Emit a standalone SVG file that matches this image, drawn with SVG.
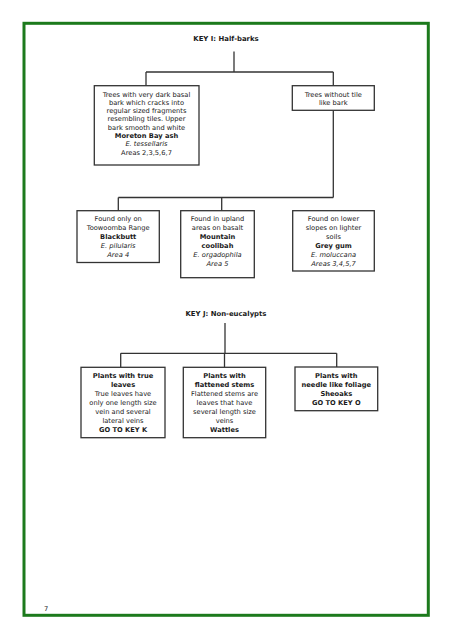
<svg xmlns="http://www.w3.org/2000/svg" width="452" height="640" viewBox="0 0 452 640">
<style>
text{font-family:"DejaVu Sans","Verdana",sans-serif;font-size:6.7px;fill:#1a1a1a;text-anchor:middle}
.b{font-weight:bold}
.i{font-style:italic}
.t{font-weight:bold;font-size:6.9px}
.box{fill:#fff;stroke:#333;stroke-width:1.3}
.con line{stroke:#333;stroke-width:1.3}
</style>
<rect x="24" y="23.3" width="404.3" height="592" fill="none" stroke="#1c7a1c" stroke-width="3"/>
<text x="226" y="40.5" class="t">KEY I: Half-barks</text>
<text x="226" y="316" class="t">KEY J: Non-eucalypts</text>
<text x="44" y="611" style="text-anchor:start">7</text>
<g id="connectors" class="con">
<line x1="234" y1="51.5" x2="234" y2="72"/>
<line x1="146" y1="72" x2="333.3" y2="72"/>
<line x1="146" y1="72" x2="146" y2="85.7"/>
<line x1="333.3" y1="72" x2="333.3" y2="85.7"/>
<line x1="333.3" y1="110.3" x2="333.3" y2="197.5"/>
<line x1="118.3" y1="197.5" x2="333.3" y2="197.5"/>
<line x1="118.3" y1="197.5" x2="118.3" y2="210.7"/>
<line x1="221.7" y1="197.5" x2="221.7" y2="210.7"/>
<line x1="225" y1="323" x2="225" y2="353.3"/>
<line x1="120.7" y1="353.3" x2="336.7" y2="353.3"/>
<line x1="120.7" y1="353.3" x2="120.7" y2="367.3"/>
<line x1="224.5" y1="353.3" x2="224.5" y2="367.3"/>
<line x1="336.7" y1="353.3" x2="336.7" y2="367.3"/>
</g>
<g id="n-moreton">
<rect class="box" x="94.3" y="85.7" width="104.7" height="79.3"/>
<text x="146.5" y="96.5">Trees with very dark basal</text>
<text x="146.5" y="104.8">bark which cracks into</text>
<text x="146.5" y="113.1">regular sized fragments</text>
<text x="146.5" y="121.4">resembling tiles. Upper</text>
<text x="146.5" y="129.7">bark smooth and white</text>
<text x="146.5" y="138" class="b">Moreton Bay ash</text>
<text x="146.5" y="146.3" class="i">E. tessellaris</text>
<text x="146.5" y="154.6">Areas 2,3,5,6,7</text>
</g>
<g id="n-notile">
<rect class="box" x="292.3" y="85.7" width="82" height="24.6"/>
<text x="333.3" y="96.5">Trees without tile</text>
<text x="333.3" y="105.2">like bark</text>
</g>
<g id="n-blackbutt">
<rect class="box" x="77" y="210.7" width="82.3" height="51.8"/>
<text x="118.2" y="221.4">Found only on</text>
<text x="118.2" y="230.4">Toowoomba Range</text>
<text x="118.2" y="239.4" class="b">Blackbutt</text>
<text x="118.2" y="248.4" class="i">E. pilularis</text>
<text x="118.2" y="257.4" class="i">Area 4</text>
</g>
<g id="n-coolibah">
<rect class="box" x="180.7" y="210.7" width="73.6" height="67"/>
<text x="217.5" y="221.4">Found in upland</text>
<text x="217.5" y="230.4">areas on basalt</text>
<text x="217.5" y="239.4" class="b">Mountain</text>
<text x="217.5" y="248.4" class="b">coolibah</text>
<text x="217.5" y="257.4" class="i">E. orgadophila</text>
<text x="217.5" y="266.4" class="i">Area 5</text>
</g>
<g id="n-greygum">
<rect class="box" x="292.7" y="210.7" width="81.6" height="60.3"/>
<text x="333.5" y="221.4">Found on lower</text>
<text x="333.5" y="230.4">slopes on lighter</text>
<text x="333.5" y="239.4">soils</text>
<text x="333.5" y="248.4" class="b">Grey gum</text>
<text x="333.5" y="257.4" class="i">E. moluccana</text>
<text x="333.5" y="266.4" class="i">Areas 3,4,5,7</text>
</g>
<g id="n-trueleaves">
<rect class="box" x="81" y="367.3" width="84" height="70.4"/>
<text x="123" y="378" class="b">Plants with true</text>
<text x="123" y="387" class="b">leaves</text>
<text x="123" y="396">True leaves have</text>
<text x="123" y="405">only one length size</text>
<text x="123" y="414">vein and several</text>
<text x="123" y="423">lateral veins</text>
<text x="123" y="432" class="b">GO TO KEY K</text>
</g>
<g id="n-flattened">
<rect class="box" x="183.3" y="367.3" width="82.4" height="70.4"/>
<text x="224.5" y="378" class="b">Plants with</text>
<text x="224.5" y="387" class="b">flattened stems</text>
<text x="224.5" y="396">Flattened stems are</text>
<text x="224.5" y="405">leaves that have</text>
<text x="224.5" y="414">several length size</text>
<text x="224.5" y="423">veins</text>
<text x="224.5" y="432" class="b">Wattles</text>
</g>
<g id="n-needle">
<rect class="box" x="295" y="367" width="82.7" height="43.7"/>
<text x="336.3" y="377.5" class="b">Plants with</text>
<text x="336.3" y="386.5" class="b">needle like foliage</text>
<text x="336.3" y="395.5" class="b">Sheoaks</text>
<text x="336.3" y="404.5" class="b">GO TO KEY O</text>
</g>
</svg>
